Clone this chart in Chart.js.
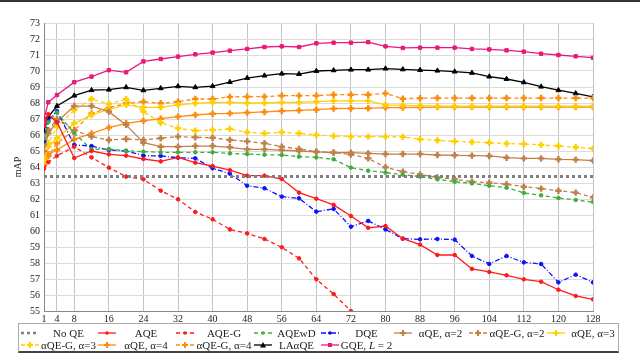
<!DOCTYPE html>
<html>
<head>
<meta charset="utf-8">
<script src="https://cdn.jsdelivr.net/npm/chart.js@4.4.1/dist/chart.umd.min.js"></script>
<style>
  body { margin: 0; background: #fff; }
  #wrap { position: relative; width: 640px; height: 356px; overflow: hidden; font-family: "Liberation Serif", "DejaVu Serif", serif; }
  #topline { position: absolute; left: 0; top: 0; width: 640px; height: 2px; background: #333; }
  #c { position: absolute; left: 0; top: 0; }
  #legend { position: absolute; left: 18px; top: 323px; width: 601px; height: 30px; border: 1px solid #aaa; border-bottom: 2px solid #444; box-sizing: border-box; font-size: 11px; color: #222; }
  .item { position: absolute; height: 13px; display: flex; align-items: center; white-space: nowrap; }
  .item svg { flex: none; }
  .item span { flex: 1; text-align: center; }
</style>
</head>
<body>
<div id="wrap">
  <canvas id="c" width="640" height="325"></canvas>
  <div id="topline"></div>
  <div id="legend"></div>
</div>
<script>
// number of expanded queries
var xs = [1, 2, 4, 8, 12, 16, 20, 24, 28, 32, 36, 40, 44, 48, 52, 56, 60, 64, 68, 72, 76, 80, 84, 88, 92, 96, 100, 104, 108, 112, 116, 120, 124, 128];
var xTicks = [1, 4, 8, 16, 24, 32, 40, 48, 56, 64, 72, 80, 88, 96, 104, 112, 120, 128];

var noQE = 63.4;
var aqe = [66.6, 67.3, 66.8, 64.56, 65.0, 64.79, 64.71, 64.5, 64.35, 64.6, 64.27, 64.06,
  63.8, 63.46, 63.46, 63.25, 62.4, 62.02, 61.63, 60.94, 60.2, 60.31, 59.52,
  59.15, 58.5, 58.5, 57.63, 57.44, 57.23, 56.98, 56.83, 56.33, 55.94, 55.73];
var aqeG = [63.9, 64.3, 64.7, 65.27, 64.6, 63.96, 63.4, 63.23, 62.52, 61.98, 61.19, 60.73,
  60.1, 59.85, 59.5, 58.98, 58.29, 56.98, 56.06, 55.0];
var aqewd = [65.8, 66.8, 67.4, 66.1, 65.1, 65.12, 65.02, 64.96, 64.92, 64.92, 64.92, 64.92,
  64.85, 64.81, 64.77, 64.75, 64.65, 64.6, 64.48, 63.96, 63.77, 63.65, 63.52,
  63.4, 63.23, 63.08, 62.98, 62.83, 62.71, 62.38, 62.23, 62.06, 61.94, 61.81];
var dqe = [65.6, 66.9, 67.5, 65.38, 65.31, 65.06, 65.0, 64.71, 64.69, 64.58, 64.54, 63.92,
  63.58, 62.83, 62.67, 62.15, 62.04, 61.21, 61.38, 60.27, 60.63, 60.1, 59.52,
  59.48, 59.5, 59.46, 58.44, 57.94, 58.44, 58.04, 57.94, 56.79, 57.27, 56.79];
var aqe2 = [65.0, 66.1, 66.83, 67.81, 67.81, 67.46, 66.63, 65.52, 65.27, 65.27, 65.31, 65.31,
  65.23, 65.1, 65.1, 65.06, 65.0, 64.94, 64.9, 64.9, 64.85, 64.81, 64.81,
  64.81, 64.75, 64.73, 64.71, 64.69, 64.58, 64.54, 64.54, 64.48, 64.46, 64.4];
var aqeG2 = [65.4, 66.3, 67.0, 66.3, 65.9, 65.69, 65.75, 65.69, 65.8, 65.9, 65.85, 65.83,
  65.69, 65.6, 65.48, 65.27, 65.13, 64.96, 64.9, 64.78, 64.54, 63.98, 63.71,
  63.54, 63.35, 63.23, 63.08, 63.02, 62.92, 62.77, 62.65, 62.52, 62.4, 62.1];
var aqe3 = [64.6, 65.27, 65.8, 66.73, 67.25, 67.6, 67.88, 67.73, 67.73, 67.88, 67.98, 68.04,
  68.04, 68.0, 68.0, 68.04, 68.04, 68.08, 68.13, 68.13, 68.13, 67.88, 67.85,
  67.83, 67.8, 67.8, 67.8, 67.8, 67.8, 67.8, 67.8, 67.8, 67.8, 67.8];
var aqeG3 = [64.4, 65.5, 66.5, 67.56, 68.25, 67.94, 68.23, 67.46, 66.77, 66.42, 66.27, 66.31,
  66.38, 66.17, 66.1, 66.17, 66.1, 66.0, 65.94, 65.9, 65.9, 65.9, 65.88,
  65.73, 65.67, 65.6, 65.56, 65.52, 65.46, 65.44, 65.38, 65.31, 65.23, 65.15];
var aqe4 = [64.5, 64.8, 65.06, 65.73, 66.1, 66.46, 66.73, 66.88, 67.02, 67.15, 67.25, 67.33,
  67.35, 67.4, 67.44, 67.5, 67.54, 67.58, 67.65, 67.66, 67.67, 67.71, 67.71,
  67.73, 67.74, 67.74, 67.74, 67.74, 67.74, 67.74, 67.74, 67.74, 67.74, 67.74];
var aqeG4 = [64.12, 64.69, 65.48, 66.3, 67.35, 67.71, 67.98, 68.08, 67.98, 68.08, 68.25, 68.25,
  68.38, 68.4, 68.4, 68.46, 68.46, 68.46, 68.52, 68.52, 68.52, 68.6, 68.27,
  68.3, 68.31, 68.31, 68.31, 68.31, 68.31, 68.31, 68.31, 68.31, 68.31, 68.31];
var laaqe = [66.25, 67.14, 67.81, 68.46, 68.8, 68.83, 68.98, 68.79, 68.92, 69.04, 68.98, 69.05,
  69.31, 69.56, 69.71, 69.83, 69.81, 70.0, 70.04, 70.08, 70.08, 70.15, 70.1,
  70.06, 70.02, 69.96, 69.88, 69.65, 69.5, 69.29, 69.02, 68.8, 68.6, 68.38];
var gqe = [67.0, 68.05, 68.5, 69.3, 69.65, 70.05, 69.92, 70.6, 70.75, 70.9, 71.04, 71.15,
  71.27, 71.38, 71.5, 71.54, 71.5, 71.73, 71.77, 71.77, 71.8, 71.54, 71.44,
  71.46, 71.46, 71.46, 71.38, 71.35, 71.29, 71.21, 71.08, 71.0, 70.92, 70.83];

var RED = '#ff1a1a', GREEN = '#3cae3c', BLUE = '#1010ff', BROWN = '#c0804a',
    YELLOW = '#ffd000', ORANGE = '#ff8a10', PINK = '#e8187c';
var DASH = [4, 3], DASHDOT = [5, 2, 1, 2];

function pts(arr) {
  return arr.map(function (v, i) { return { x: xs[i], y: v }; });
}

function series(label, arr, color, dash, marker, r) {
  return {
    label: label,
    data: pts(arr),
    borderColor: color,
    backgroundColor: color,
    pointBackgroundColor: color,
    pointBorderColor: color,
    borderWidth: 1.3,
    borderDash: dash,
    pointStyle: marker,
    pointRadius: r,
    pointBorderWidth: marker === 'cross' ? 2.4 : 1,
    tension: 0
  };
}

var datasets = [
  {
    label: 'No QE', data: [{ x: 1, y: noQE }, { x: 128, y: noQE }],
    borderColor: '#808080', borderWidth: 3, borderDash: [3, 3], pointRadius: 0
  },
  series('AQE', aqe, RED, [], 'circle', 1.8),
  series('AQE-G', aqeG, RED, DASH, 'circle', 1.8),
  series('AQEwD', aqewd, GREEN, DASH, 'circle', 1.8),
  series('DQE', dqe, BLUE, DASHDOT, 'circle', 1.8),
  series('αQE, α=2', aqe2, BROWN, [], 'cross', 3.2),
  series('αQE-G, α=2', aqeG2, BROWN, DASH, 'cross', 3.2),
  series('αQE, α=3', aqe3, YELLOW, [], 'cross', 3.2),
  series('αQE-G, α=3', aqeG3, YELLOW, DASH, 'cross', 3.2),
  series('αQE, α=4', aqe4, ORANGE, [], 'cross', 3.2),
  series('αQE-G, α=4', aqeG4, ORANGE, DASH, 'cross', 3.2),
  series('LAαQE', laaqe, '#000000', [], 'triangle', 2.8),
  series('GQE, L = 2', gqe, PINK, [], 'rect', 2.4)
];

var tickFont = { family: '"Liberation Serif", "DejaVu Serif", serif', size: 10 };

new Chart(document.getElementById('c'), {
  type: 'line',
  data: { datasets: datasets },
  options: {
    responsive: false,
    animation: false,
    layout: { padding: { left: 12, right: 47, top: 23, bottom: 0 } },
    plugins: { legend: { display: false }, tooltip: { enabled: false } },
    scales: {
      x: {
        type: 'linear', min: 1, max: 128,
        afterBuildTicks: function (s) { s.ticks = xTicks.map(function (v) { return { value: v }; }); },
        afterFit: function (s) { s.height = 14; },
        ticks: { font: tickFont, color: '#222', padding: 2, maxRotation: 0, autoSkip: false },
        grid: { color: '#c4c4c4', tickLength: 0 },
        border: { color: '#888' }
      },
      y: {
        min: 55, max: 73,
        afterFit: function (s) { s.width = 32; },
        ticks: { stepSize: 1, font: tickFont, color: '#222', padding: 4 },
        grid: { color: '#dcdcdc', tickLength: 0 },
        border: { color: '#888' },
        title: { display: true, text: 'mAP', font: { family: tickFont.family, size: 10 }, color: '#222', padding: 0 }
      }
    }
  }
});

// legend laid out as the two-row table of the figure
var cols = [20, 97, 175, 253, 320, 393, 468, 546, 620];
var legend = document.getElementById('legend');
datasets.forEach(function (d, i) {
  var row = i < 8 ? 0 : 1, col = i < 8 ? i : i - 8;
  var el = document.createElement('div');
  el.className = 'item';
  el.style.left = (cols[col] - 19) + 'px';
  el.style.top = (row === 0 ? 2 : 14) + 'px';
  el.style.width = (cols[col + 1] - cols[col]) + 'px';
  var c = d.borderColor, dash = (d.borderDash || []).join(',');
  var svg = '<svg width="20" height="10"><line x1="1" y1="5" x2="19" y2="5" stroke="' + c +
    '" stroke-width="' + (d.borderWidth > 2 ? 2.5 : 1.3) + '" stroke-dasharray="' + dash + '"/>';
  if (d.pointStyle === 'circle') svg += '<circle cx="10" cy="5" r="1.8" fill="' + c + '"/>';
  if (d.pointStyle === 'rect') svg += '<rect x="8" y="3" width="4" height="4" fill="' + c + '"/>';
  if (d.pointStyle === 'triangle') svg += '<polygon points="10,2 13,7.5 7,7.5" fill="' + c + '"/>';
  if (d.pointStyle === 'cross') svg += '<path d="M10 2 V8 M7 5 H13" stroke="' + c + '" stroke-width="2.2"/>';
  svg += '</svg>';
  var txt = d.label.replace('L =', '<i>L</i> =');
  el.innerHTML = svg + '<span>' + txt + '</span>';
  legend.appendChild(el);
});
</script>
</body>
</html>
